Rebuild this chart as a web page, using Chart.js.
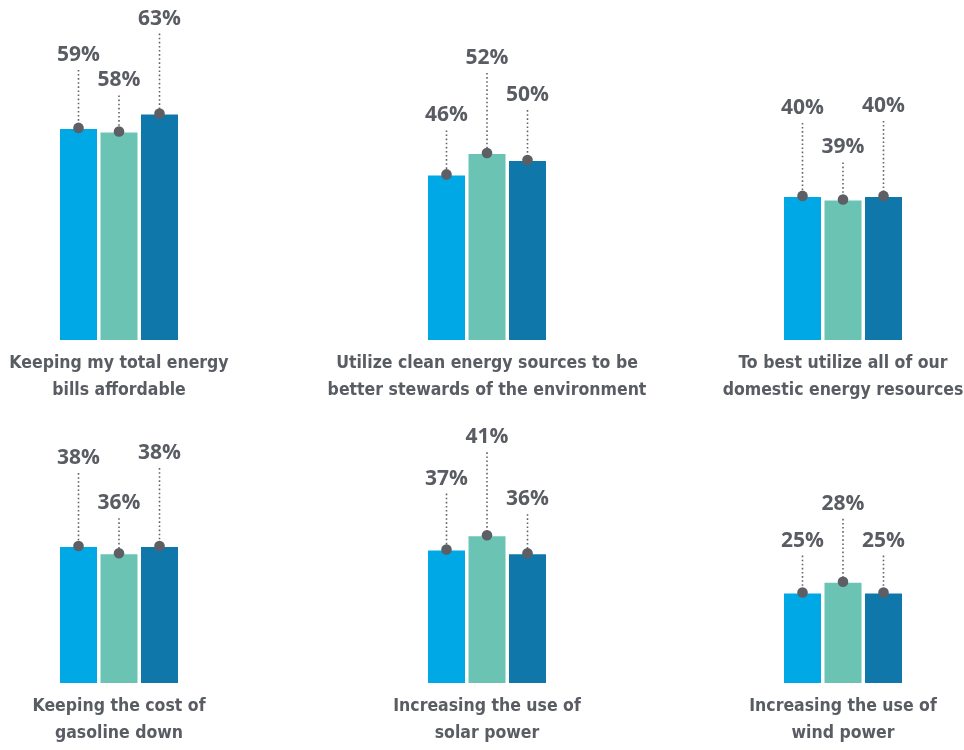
<!DOCTYPE html>
<html>
<head>
<meta charset="utf-8">
<script src="https://cdn.jsdelivr.net/npm/chart.js@4.4.1/dist/chart.umd.min.js"></script>
<style>
    html, body { margin: 0; padding: 0; background: #fff; }
    body { width: 964px; height: 750px; position: relative; overflow: hidden; }
    .panel { position: absolute; }
</style>
</head>
<body>
<div class="panel" style="left:0px;top:0px"><canvas id="c0" width="238" height="404"></canvas></div>
<div class="panel" style="left:312px;top:0px"><canvas id="c1" width="350" height="404"></canvas></div>
<div class="panel" style="left:703px;top:0px"><canvas id="c2" width="280" height="404"></canvas></div>
<div class="panel" style="left:0px;top:343px"><canvas id="c3" width="238" height="404"></canvas></div>
<div class="panel" style="left:312px;top:343px"><canvas id="c4" width="350" height="404"></canvas></div>
<div class="panel" style="left:703px;top:343px"><canvas id="c5" width="280" height="404"></canvas></div>
<script>
// data
var categories = [
    ['Keeping my total energy', 'bills affordable'],
    ['Utilize clean energy sources to be', 'better stewards of the environment'],
    ['To best utilize all of our', 'domestic energy resources'],
    ['Keeping the cost of', 'gasoline down'],
    ['Increasing the use of', 'solar power'],
    ['Increasing the use of', 'wind power']
];
var seriesA = [59, 46, 40, 38, 37, 25];
var seriesB = [58, 52, 39, 36, 41, 28];
var seriesC = [63, 50, 40, 38, 36, 25];

var colors = ['#00a8e5', '#6ac3b3', '#1077aa'];
// how far each value label sits above its bar (px)
var labelLift = [
    [74, 52, 96],
    [60, 96, 66],
    [89, 53, 91],
    [89, 51, 94],
    [72, 99, 55],
    [53, 79, 53]
];

var textGray = '#595c62';

var leaderPlugin = {
    id: 'leaders',
    afterDatasetsDraw: function (chart) {
        var ctx = chart.ctx;
        var lifts = chart.options.plugins.leaders.lifts;
        chart.data.datasets.forEach(function (ds, i) {
            var bar = chart.getDatasetMeta(i).data[0];
            var x = bar.x, y = bar.y;
            var ly = y - lifts[i];
            ctx.save();
            ctx.strokeStyle = '#626469';
            ctx.lineWidth = 1.6;
            ctx.setLineDash([1.6, 2.5]);
            ctx.beginPath();
            ctx.moveTo(x, ly + 15);
            ctx.lineTo(x, y);
            ctx.stroke();
            ctx.setLineDash([]);
            ctx.fillStyle = '#5d5f65';
            ctx.beginPath();
            ctx.arc(x, y - 1, 5.3, 0, Math.PI * 2);
            ctx.fill();
            ctx.font = 'bold 21px "Open Sans", sans-serif';
            ctx.fillStyle = textGray;
            ctx.textAlign = 'center';
            ctx.textBaseline = 'middle';
            ctx.fillText(ds.data[0] + '%', x, ly);
            ctx.restore();
        });
    }
};

function makePanel(idx) {
    var canvas = document.getElementById('c' + idx);
    var w = canvas.width;
    new Chart(canvas, {
        type: 'bar',
        data: {
            labels: [''],
            datasets: [
                { data: [seriesA[idx]], backgroundColor: colors[0] },
                { data: [seriesB[idx]], backgroundColor: colors[1] },
                { data: [seriesC[idx]], backgroundColor: colors[2] }
            ]
        },
        options: {
            responsive: false,
            animation: false,
            categoryPercentage: 121.5 / w,
            barPercentage: 37 / 40.5,
            layout: { padding: { top: 18, left: 0, right: 0, bottom: 0 } },
            plugins: {
                legend: { display: false },
                tooltip: { enabled: false },
                leaders: { lifts: labelLift[idx] }
            },
            scales: {
                x: {
                    grid: { display: false, drawTicks: false },
                    border: { display: false },
                    ticks: { display: false },
                    title: {
                        display: true,
                        text: categories[idx],
                        color: textGray,
                        font: { family: '"DejaVu Sans Condensed", sans-serif', size: 17.5, weight: 'bold', lineHeight: 27 / 17.5 },
                        padding: { top: 10, bottom: 0 }
                    }
                },
                y: {
                    display: false,
                    min: 0,
                    max: 90
                }
            }
        },
        plugins: [leaderPlugin]
    });
}

for (var i = 0; i < categories.length; i++) {
    makePanel(i);
}
</script>
</body>
</html>
